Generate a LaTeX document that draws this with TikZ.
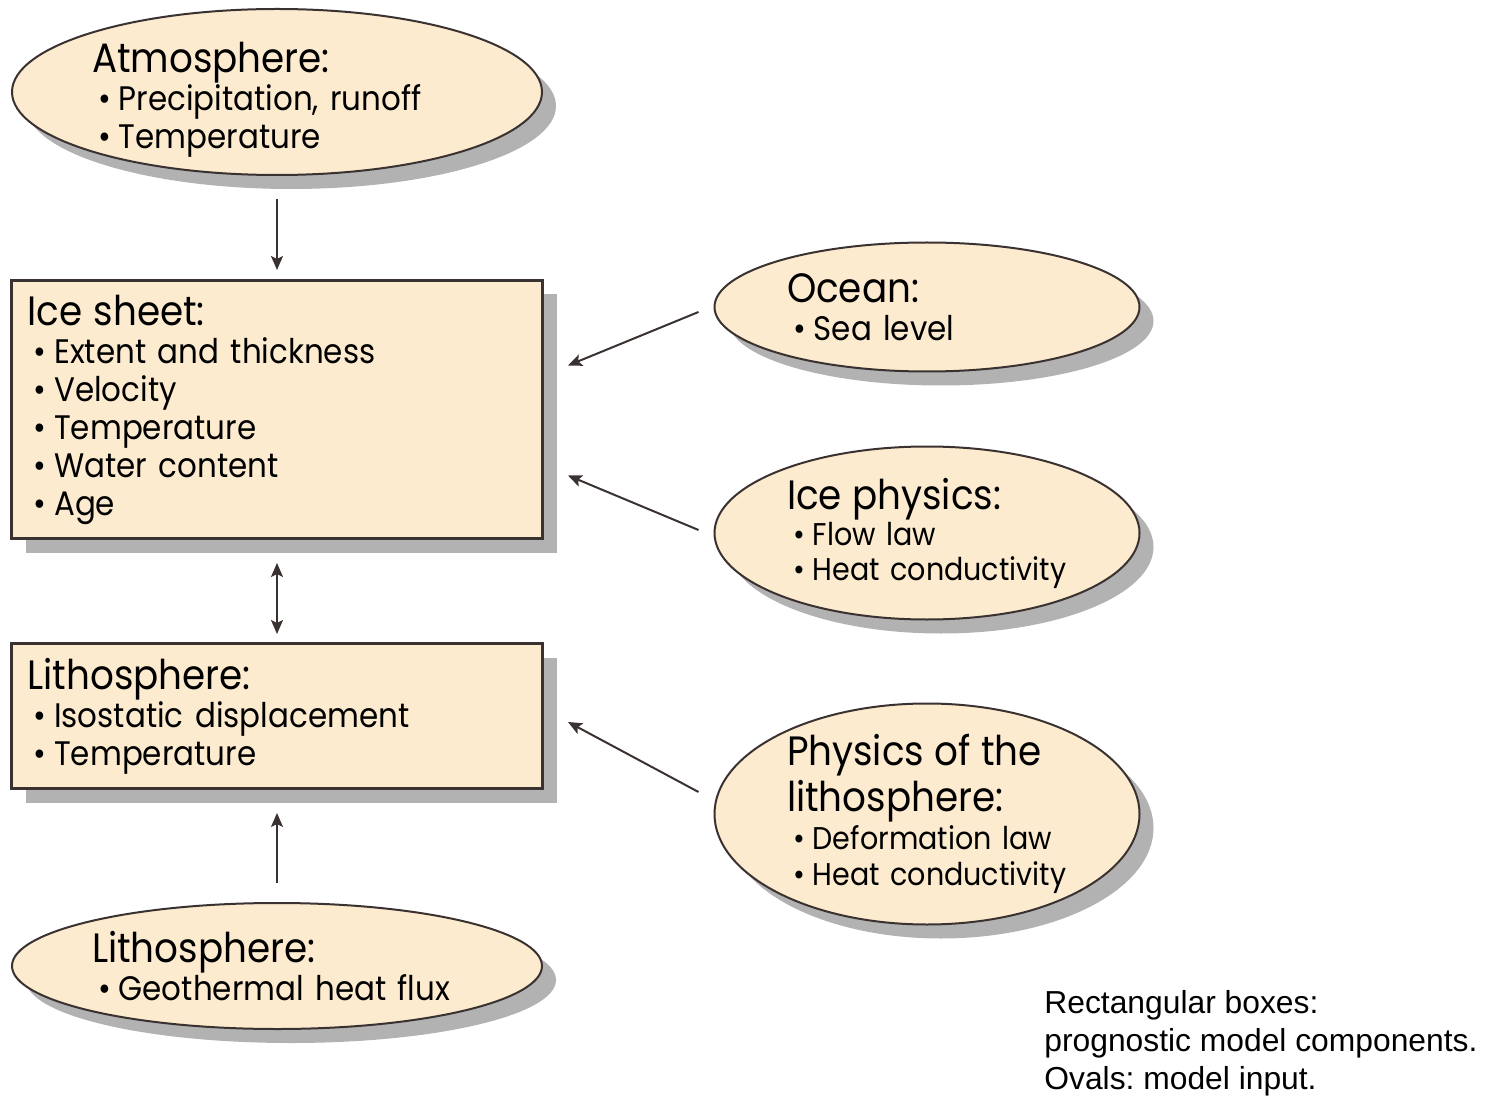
\documentclass[tikz,border=0pt]{standalone}
\usepackage{fontspec}
\setmainfont{Poppins}[FakeStretch=0.91]
\newfontfamily\legendfont{Liberation Sans}
\usetikzlibrary{positioning,shapes.geometric,shadows,calc,arrows.meta}
\definecolor{sand}{RGB}{253,235,208}
\definecolor{rim}{RGB}{58,50,48}
\newcommand{\hd}[1]{{\fontsize{20.5}{19}\selectfont #1}}
\newcommand{\itm}[1]{\hspace*{3pt}\textbullet\hspace{4pt}#1}
\frenchspacing

\begin{document}
\begin{tikzpicture}[x=0.5pt, y=-0.5pt,
                    shade/.style={drop shadow={shadow xshift=7pt, shadow yshift=-7pt, fill=black!30, opacity=1}}]
    \tikzstyle{oval}=[ellipse, draw=rim, line width=1pt, fill=sand, shade, inner xsep=-4pt, inner ysep=-6pt, align=left, font=\fontsize{17}{19}\selectfont]
    \tikzstyle{comp}=[rectangle, draw=rim, line width=1.5pt, fill=sand, shade, inner xsep=8pt, minimum width=265.5pt, text width=249.5pt, align=left, font=\fontsize{17}{19}\selectfont]
    \tikzstyle{connect}=[-{Stealth[length=7pt, width=6pt, inset=1.5pt]}, line width=1pt, draw=rim]

      \useasboundingbox (0,0) rectangle (1493,1096);

      \node[oval, minimum width=265pt, minimum height=83pt, text width=185pt] (atmo) at (277,92) {\hd{\rule{0pt}{23pt}Atmosphere:}\\ \itm{Precipitation, runoff}\\ \itm{Temperature}};
      \node[comp, minimum height=129pt] (icesheet) [below=51.5pt of atmo] {\hd{Ice sheet:}\\ \itm{Extent and thickness}\\ \itm{Velocity}\\ \itm{Temperature}\\ \itm{Water content}\\ \itm{Age}};
      \node[comp, minimum height=72.5pt] (lithobox) [below=51pt of icesheet] {\hd{Lithosphere:}\\ \itm{Isostatic displacement}\\ \itm{Temperature}};
      \node[oval, minimum width=265pt, minimum height=63pt, text width=185pt] (lithoin) [below=56pt of lithobox] {\hd{Lithosphere:}\\ \itm{Geothermal heat flux}};

      \node[oval, minimum width=212.5pt, minimum height=64.5pt, text width=140pt, inner xsep=-6pt] (ocean) at (927,307) {\hd{Ocean:}\\ \itm{Sea level}};
      \node[oval, minimum width=212.5pt, minimum height=86.5pt, text width=140pt, inner xsep=-6pt, font=\fontsize{15.7}{17.5}\selectfont] (icephys) at (927,533) {\hd{Ice physics:}\\[0.5pt] \itm{Flow law}\\ \itm{Heat conductivity}};
      \node[oval, minimum width=212.5pt, minimum height=110.5pt, text width=140pt, inner xsep=-6pt, inner ysep=-14pt, font=\fontsize{15.7}{18}\selectfont] (lithophys) at (927,814) {\hd{Physics of the}\\[1pt] \hd{lithosphere:}\\[1pt] \itm{Deformation law}\\ \itm{Heat conductivity}};

      \node[font=\legendfont\fontsize{15.9}{19}\selectfont, align=left, anchor=north west, inner sep=0pt] (legend) at (1044,990) {Rectangular boxes:\\prognostic model components.\\Ovals: model input.};

      \draw[connect, shorten <=11.5pt, shorten >=4.5pt] (atmo.south) -- (icesheet.north);
      \draw[connect, {Stealth[length=7pt, width=6pt, inset=1.5pt]}-{Stealth[length=7pt, width=6pt, inset=1.5pt]}, shorten <=11.5pt, shorten >=4pt] (icesheet.south) -- (lithobox.north);
      \draw[connect, shorten <=9.5pt, shorten >=11.5pt] (lithoin.north) -- (lithobox.south);
      \draw[connect] ($(ocean.west)+(-15,5)$) -- ($(icesheet.east)+(24,-44)$);
      \draw[connect] ($(icephys.west)+(-15,-3)$) -- ($(icesheet.east)+(24,66)$);
      \draw[connect] ($(lithophys.west)+(-15,-22)$) -- ($(lithobox.east)+(24,6)$);
    \end{tikzpicture}
\end{document}
